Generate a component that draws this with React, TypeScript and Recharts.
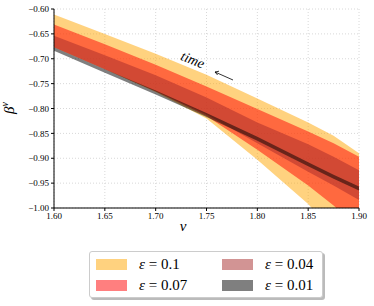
import React from "react"
import { ComposedChart, Area, XAxis, YAxis, CartesianGrid } from "recharts"

// v grid where the band edges were read
const vs = [1.6, 1.65, 1.7, 1.75, 1.8, 1.85, 1.875, 1.9]

// band edges per epsilon (low / high)
const eps10Lo = [-0.677, -0.721, -0.767, -0.82, -0.903, -0.992, -1.05, -1.11]
const eps10Hi = [-0.611, -0.65, -0.69, -0.732, -0.78, -0.828, -0.855, -0.89]
const eps07Lo = [-0.677, -0.721, -0.766, -0.815, -0.883, -0.955, -0.995, -1.04]
const eps07Hi = [-0.631, -0.671, -0.712, -0.756, -0.801, -0.846, -0.87, -0.897]
const eps04Lo = [-0.677, -0.721, -0.765, -0.812, -0.87, -0.927, -0.955, -0.984]
const eps04Hi = [-0.654, -0.693, -0.733, -0.778, -0.828, -0.872, -0.897, -0.924]
const eps01Lo = [-0.684, -0.728, -0.772, -0.817, -0.865, -0.916, -0.941, -0.965]
const eps01Hi = [-0.677, -0.721, -0.764, -0.809, -0.857, -0.908, -0.933, -0.957]

const xTicks = [1.6, 1.65, 1.7, 1.75, 1.8, 1.85, 1.9]
const yTicks = [-1.0, -0.95, -0.9, -0.85, -0.8, -0.75, -0.7, -0.65, -0.6]

const bands = [
  { key: "e10", label: "0.1", color: "#ffa500" },
  { key: "e07", label: "0.07", color: "#ff0000" },
  { key: "e04", label: "0.04", color: "#a52a2a" },
  { key: "e01", label: "0.01", color: "#000000" },
]

const data = vs.map((v, i) => ({
  v,
  e10: [eps10Lo[i], eps10Hi[i]],
  e07: [eps07Lo[i], eps07Hi[i]],
  e04: [eps04Lo[i], eps04Hi[i]],
  e01: [eps01Lo[i], eps01Hi[i]],
}))

const font = "'Liberation Serif', 'DejaVu Serif', serif"
const fmtY = (n: number) => (n < 0 ? "\u2212" : "") + Math.abs(n).toFixed(2)
const tickStyle = { fill: "#000", fontSize: 9, fontFamily: font }

export default function App() {
  return (
    <div style={{ position: "absolute", left: 0, top: 0, width: 374, height: 306, background: "#fff" }}>
      <ComposedChart width={374} height={240} data={data} margin={{ top: 9, right: 15, left: 0, bottom: 0 }}>
        <CartesianGrid stroke="#d8d8d8" strokeDasharray="1 2" />
        <XAxis
          dataKey="v"
          type="number"
          domain={[1.6, 1.9]}
          ticks={xTicks}
          tickFormatter={(n: number) => n.toFixed(2)}
          allowDataOverflow
          height={32}
          tick={tickStyle}
          tickSize={3}
          axisLine={{ stroke: "#000" }}
          tickLine={{ stroke: "#000" }}
        />
        <XAxis xAxisId="top" orientation="top" dataKey="v" type="number" domain={[1.6, 1.9]} tick={false} tickLine={false} height={0} axisLine={{ stroke: "#000" }} />
        <YAxis
          type="number"
          domain={[-1, -0.6]}
          ticks={yTicks}
          tickFormatter={fmtY}
          allowDataOverflow
          width={54}
          tick={tickStyle}
          tickSize={3}
          axisLine={{ stroke: "#000" }}
          tickLine={{ stroke: "#000" }}
        />
        <YAxis yAxisId="right" orientation="right" domain={[-1, -0.6]} tick={false} tickLine={false} width={0} axisLine={{ stroke: "#000" }} />
        {bands.map((b) => (
          <Area
            key={b.key}
            dataKey={b.key}
            type="linear"
            stroke="none"
            fill={b.color}
            fillOpacity={0.5}
            isAnimationActive={false}
            activeDot={false}
            dot={false}
          />
        ))}
      </ComposedChart>
      <svg width={374} height={306} style={{ position: "absolute", left: 0, top: 0, pointerEvents: "none" }}>
        <text x={14} y={108} transform="rotate(-90 14 108)" textAnchor="middle" fontFamily={font} fontSize={15} fontStyle="italic">
          β<tspan dy={-6} fontSize={10}>v</tspan>
        </text>
        <text x={183} y={231} textAnchor="middle" fontFamily={font} fontSize={15} fontStyle="italic">v</text>
        <text x={191} y={64} transform="rotate(22 191 64)" textAnchor="middle" fontFamily={font} fontSize={14} fontStyle="italic">time</text>
        <line x1={233} y1={80} x2={215} y2={72} stroke="#000" strokeWidth={0.8} />
        <path d="M219 71.2 L215 72 L217.6 75" fill="none" stroke="#000" strokeWidth={0.8} />
      </svg>
      <div
        style={{
          position: "absolute",
          left: 89,
          top: 251,
          width: 234,
          height: 47,
          border: "1px solid #cccccc",
          borderRadius: 3,
          boxShadow: "2px 2px 0 #bbbbbb",
          background: "#fff",
          display: "grid",
          gridTemplateColumns: "126px 108px",
          gridTemplateRows: "21px 21px",
          gridAutoFlow: "column",
          paddingTop: 2,
          boxSizing: "border-box",
          fontFamily: font,
        }}
      >
        {bands.map((b) => (
          <div key={b.key} style={{ display: "flex", alignItems: "center", paddingLeft: 6 }}>
            <span style={{ width: 31, height: 11, background: b.color, opacity: 0.5, display: "inline-block" }} />
            <span style={{ marginLeft: 12, fontSize: 15 }}>
              <i>ε</i> = {b.label}
            </span>
          </div>
        ))}
      </div>
    </div>
  )
}
